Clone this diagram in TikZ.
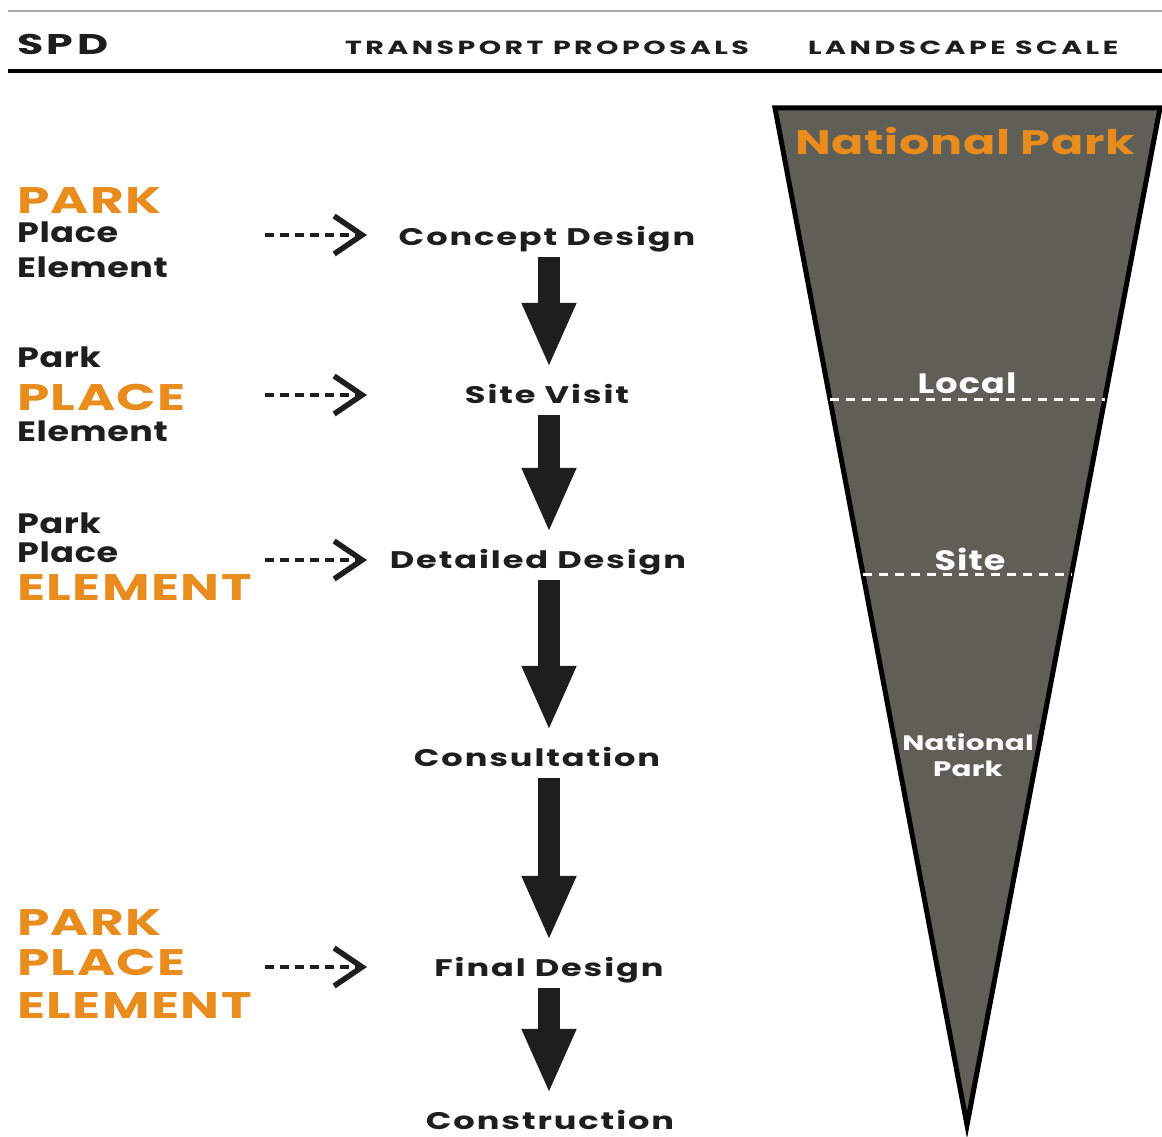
\documentclass[tikz,border=0pt]{standalone}
\usepackage{fontspec}
\setmainfont{Poppins}
\newfontfamily\gothfont{Poppins}[FakeStretch=1.4]
\newfontfamily\slimfont{Poppins}[FakeStretch=1.25]
\newfontfamily\headfont{Poppins}[FakeStretch=1.5]
\usepackage{tikz}
\usetikzlibrary{arrows.meta,calc}
\definecolor{parkorange}{RGB}{232,140,30}
\definecolor{wedgegray}{RGB}{95,95,87}
\definecolor{inkblack}{RGB}{30,30,30}

\begin{document}
\begin{tikzpicture}[x=1pt,y=-1pt,
  headtxt/.style={inner sep=0pt, anchor=base west, text=inkblack, font=\headfont\bfseries\fontsize{19}{19}\selectfont\addfontfeatures{LetterSpace=18}},
  leftbig/.style={inner sep=0pt, anchor=base west, text=parkorange, font=\gothfont\bfseries\fontsize{37}{37}\selectfont\addfontfeatures{LetterSpace=4}},
  leftsmall/.style={inner sep=0pt, anchor=base west, text=inkblack, font=\slimfont\bfseries\fontsize{28}{28}\selectfont\addfontfeatures{LetterSpace=2}},
  stage/.style={inner sep=0pt, anchor=base, text height=17pt, text depth=0pt, text=inkblack, font=\gothfont\bfseries\fontsize{24}{24}\selectfont\addfontfeatures{LetterSpace=8}},
  scaletxt/.style={inner sep=0pt, anchor=base, text=white, font=\slimfont\bfseries\fontsize{28}{28}\selectfont\addfontfeatures{LetterSpace=4}},
  blockarrow/.style={line width=22pt, shorten <=12pt, shorten >=18pt, inkblack, -{Triangle[length=65pt,width=50pt]}},
  dasharrow/.style={line width=4.5pt, inkblack, dash pattern=on 9pt off 6pt, -{Straight Barb[length=28pt,width=38pt,line width=5.5pt]}},
  leveldash/.style={white, line width=2.5pt, dash pattern=on 9pt off 7pt}]
  \useasboundingbox (0,0) rectangle (1162,1137);

  % header
  \draw[gray!70, line width=2pt] (8,11) -- (1162,11);
  \draw[black, line width=4.5pt] (8,71) -- (1162,71);
  \node[headtxt, font=\headfont\bfseries\fontsize{28.5}{28.5}\selectfont\addfontfeatures{LetterSpace=12}] (spd) at (17,55) {SPD};
  \node[headtxt] (transport) at (345,55) {TRANSPORT PROPOSALS};
  \node[headtxt] (landscape) at (808,55) {LANDSCAPE SCALE};

  % landscape scale wedge
  \coordinate (tl) at (775,108);
  \coordinate (tr) at (1160,108);
  \coordinate (tip) at (967,1125);
  \draw[line width=5pt, fill=wedgegray, line join=miter] (tl) -- (tr) -- (tip) -- cycle;
  \draw[leveldash] ($(tl)!0.2868!(tip)$) -- ($(tr)!0.2868!(tip)$);
  \draw[leveldash] ($(tl)!0.4587!(tip)$) -- ($(tr)!0.4587!(tip)$);
  \node[scaletxt, text=parkorange, font=\gothfont\bfseries\fontsize{34}{34}\selectfont\addfontfeatures{LetterSpace=2}] (natpark) at (965,155) {National Park};
  \node[scaletxt] (local) at (967,393) {Local};
  \node[scaletxt] (site) at (970,570) {Site};
  \node[scaletxt, font=\gothfont\bfseries\fontsize{21}{21}\selectfont\addfontfeatures{LetterSpace=1}] (national) at (968,750) {National};
  \node[scaletxt, font=\gothfont\bfseries\fontsize{21}{21}\selectfont\addfontfeatures{LetterSpace=1}] (park) at (968,776) {Park};

  % left labels
  \node[leftbig] (park1) at (17,213) {PARK};
  \node[leftsmall] (place1) at (17,242) {Place};
  \node[leftsmall] (elem1) at (17,277) {Element};
  \node[leftsmall] (park2) at (17,367) {Park};
  \node[leftbig] (place2) at (17,410) {PLACE};
  \node[leftsmall] (elem2) at (17,441) {Element};
  \node[leftsmall] (park3) at (17,533) {Park};
  \node[leftsmall] (place3) at (17,562) {Place};
  \node[leftbig] (elem3) at (17,600) {ELEMENT};
  \node[leftbig] (park4) at (17,935) {PARK};
  \node[leftbig] (place4) at (17,975) {PLACE};
  \node[leftbig] (elem4) at (17,1018) {ELEMENT};

  % transport stages
  \coordinate (shaft) at (549,0);
  \node[stage] (concept) at (547,245) {Concept Design};
  \node[stage] (visit) at (547,403) {Site Visit};
  \node[stage] (detailed) at (538,568) {Detailed Design};
  \node[stage] (consult) at (537,766) {Consultation};
  \node[stage] (final) at (549,976) {Final Design};
  \node[stage] (build) at (550,1129) {Construction};

  \draw[blockarrow] (concept.south -| shaft) -- (visit.north -| shaft);
  \draw[blockarrow] (visit.south -| shaft) -- (detailed.north -| shaft);
  \draw[blockarrow] (detailed.south -| shaft) -- (consult.north -| shaft);
  \draw[blockarrow] (consult.south -| shaft) -- (final.north -| shaft);
  \draw[blockarrow] (final.south -| shaft) -- (build.north -| shaft);

  \coordinate (from1) at (265,235);
  \coordinate (to1) at (367,235);
  \coordinate (from2) at (265,395);
  \coordinate (to2) at (367,395);
  \coordinate (from3) at (265,560);
  \coordinate (to3) at (367,560);
  \coordinate (from4) at (265,967);
  \coordinate (to4) at (367,967);
  \draw[dasharrow] (from1) -- (to1);
  \draw[dasharrow] (from2) -- (to2);
  \draw[dasharrow] (from3) -- (to3);
  \draw[dasharrow] (from4) -- (to4);
\end{tikzpicture}
\end{document}
